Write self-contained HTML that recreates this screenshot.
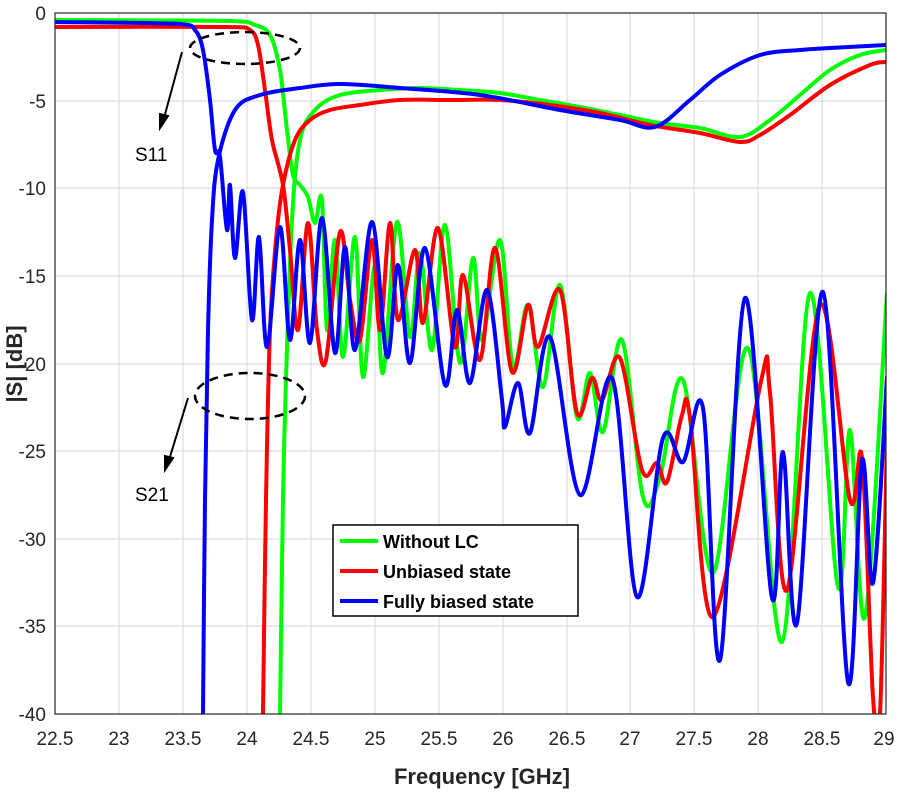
<!DOCTYPE html>
<html><head><meta charset="utf-8"><style>
html,body{margin:0;padding:0;background:#fff;}
svg{display:block;font-family:"Liberation Sans",Arial,sans-serif;}
</style></head><body>
<svg id="c" width="900" height="800" viewBox="0 0 900 800" xmlns="http://www.w3.org/2000/svg">
<defs><clipPath id="pa"><rect x="55" y="13" width="831" height="701"/></clipPath></defs>
<rect x="0" y="0" width="900" height="800" fill="#fff"/>
<g stroke="#dcdcdc" stroke-width="1.2">
<line x1="119" y1="13" x2="119" y2="714"/><line x1="183" y1="13" x2="183" y2="714"/><line x1="247" y1="13" x2="247" y2="714"/><line x1="311" y1="13" x2="311" y2="714"/><line x1="375" y1="13" x2="375" y2="714"/><line x1="439" y1="13" x2="439" y2="714"/><line x1="503" y1="13" x2="503" y2="714"/><line x1="567" y1="13" x2="567" y2="714"/><line x1="630" y1="13" x2="630" y2="714"/><line x1="694" y1="13" x2="694" y2="714"/><line x1="758" y1="13" x2="758" y2="714"/><line x1="822" y1="13" x2="822" y2="714"/>
<line x1="55" y1="101" x2="886" y2="101"/><line x1="55" y1="188" x2="886" y2="188"/><line x1="55" y1="276" x2="886" y2="276"/><line x1="55" y1="364" x2="886" y2="364"/><line x1="55" y1="451" x2="886" y2="451"/><line x1="55" y1="539" x2="886" y2="539"/><line x1="55" y1="626" x2="886" y2="626"/>
</g>
<g id="curves" clip-path="url(#pa)" fill="none" stroke-width="4" stroke-linejoin="round" stroke-linecap="round">
<polyline stroke="#00ff00" points="55,20 230,21 255,25 270,35 280,70 287,130 293,175 300,185 308,197 315,223 322,200 327,330 335,240 343,357 355,237 363,377 375,265 383,373 397,222 410,337 420,253 432,350 445,225 460,363 473,258 482,340 500,240 513,367 528,305 543,387 560,285 577,417 590,373 603,432 622,340 643,497 660,477 683,380 713,573 748,348 782,642 810,293 838,587 850,430 865,617 887,293"/>
<polyline stroke="#00ff00" points="280,714 283,500 286,380 292,220 300,140 315,110 340,95 380,90 420,88 460,90 500,93 540,100 580,107 620,115 660,123 700,128 740,137 770,120 800,95 830,70 860,55 886,50"/>
<polyline stroke="#ff0000" points="55,27 230,27 250,30 258,45 265,90 272,140 283,185 290,250 298,330 308,223 317,330 326,360 340,232 350,300 360,340 372,240 380,330 390,223 398,320 415,250 423,323 438,228 455,347 463,275 480,360 495,248 512,372 528,305 538,347 560,290 577,413 592,378 602,400 620,358 642,470 657,463 667,482 682,415 690,417 713,617 762,377 770,393 787,590 820,305 850,500 862,458 873,697 880,714 887,440"/>
<polyline stroke="#ff0000" points="263,714 266,500 270,330 276,240 283,185 295,140 310,120 330,110 360,105 400,100 450,100 500,100 550,105 600,113 650,125 700,133 740,142 760,135 790,115 830,85 870,65 886,62"/>
<polyline stroke="#0000ff" points="55,22 180,24 195,30 203,50 210,100 215,150 220,157 227,230 230,185 235,258 243,192 252,320 259,237 267,347 280,227 290,340 300,240 310,343 322,218 335,353 345,247 355,350 372,222 387,357 398,265 410,363 425,248 445,385 457,310 470,383 487,290 502,400 505,427 518,383 530,433 550,337 580,495 612,378 637,597 663,438 683,462 703,408 720,660 745,298 772,598 783,452 797,623 823,292 848,682 862,460 873,583 887,377"/>
<polyline stroke="#0000ff" points="203,714 205,500 208,330 212,220 218,160 235,110 260,95 300,88 340,84 400,88 480,95 560,110 620,120 655,127 690,100 720,75 760,55 800,50 830,48 886,45"/>
</g>
<g fill="none" stroke="#000" stroke-width="2.5" stroke-dasharray="9,6">
<ellipse cx="245" cy="48" rx="55" ry="16"/>
<ellipse cx="250" cy="396" rx="55" ry="23"/>
</g>
<g stroke="#000" stroke-width="2" fill="#000">
<line x1="182" y1="52" x2="164" y2="118"/><polygon points="160,128 160,114 168,116"/>
<line x1="188" y1="398" x2="169" y2="460"/><polygon points="165,470 165,456 173,458"/>
</g>
<text x="135" y="161" font-size="19">S11</text>
<text x="135" y="501" font-size="19">S21</text>
<rect x="333" y="525" width="245" height="91" fill="#fff" stroke="#000" stroke-width="1.5"/>
<g stroke-width="4"><line x1="340" y1="541" x2="378" y2="541" stroke="#00ff00"/><line x1="340" y1="571" x2="378" y2="571" stroke="#ff0000"/><line x1="340" y1="601" x2="378" y2="601" stroke="#0000ff"/></g>
<g font-size="18" font-weight="bold"><text x="383" y="548">Without LC</text><text x="383" y="578">Unbiased state</text><text x="383" y="608">Fully biased state</text></g>
<rect x="55" y="13" width="831" height="701" fill="none" stroke="#262626" stroke-width="1.2"/>
<g font-size="19" fill="#262626" text-anchor="end">
<text x="46" y="20">0</text><text x="46" y="108">-5</text><text x="46" y="195">-10</text><text x="46" y="283">-15</text><text x="46" y="371">-20</text><text x="46" y="458">-25</text><text x="46" y="546">-30</text><text x="46" y="633">-35</text><text x="46" y="721">-40</text>
</g>
<g font-size="19" fill="#262626" text-anchor="middle">
<text x="55" y="745">22.5</text><text x="119" y="745">23</text><text x="183" y="745">23.5</text><text x="247" y="745">24</text><text x="311" y="745">24.5</text><text x="375" y="745">25</text><text x="439" y="745">25.5</text><text x="503" y="745">26</text><text x="567" y="745">26.5</text><text x="630" y="745">27</text><text x="694" y="745">27.5</text><text x="758" y="745">28</text><text x="822" y="745">28.5</text><text x="884" y="745">29</text>
</g>
<text x="482" y="784" font-size="22" font-weight="bold" text-anchor="middle" fill="#262626">Frequency [GHz]</text>
<text transform="translate(22,364) rotate(-90)" font-size="22" font-weight="bold" text-anchor="middle" fill="#262626">|S| [dB]</text>
</svg>
<script>
(function(){
var NS="http://www.w3.org/2000/svg";
var pls=document.querySelectorAll("#curves polyline");
for(var k=0;k<pls.length;k++){
 var pl=pls[k];
 var pts=pl.getAttribute("points").trim().split(/\s+/).map(function(s){var a=s.split(",");return [+a[0],+a[1]];});
 var d="M"+pts[0][0]+","+pts[0][1];
 for(var i=0;i<pts.length-1;i++){
  var p0=pts[i>0?i-1:0],p1=pts[i],p2=pts[i+1],p3=pts[i+2<pts.length?i+2:i+1];
  var t=0.5/3;
  var c1x=p1[0]+(p2[0]-p0[0])*t,c1y=p1[1]+(p2[1]-p0[1])*t;
  var c2x=p2[0]-(p3[0]-p1[0])*t,c2y=p2[1]-(p3[1]-p1[1])*t;
  c1x=Math.max(Math.min(c1x,p2[0]),p1[0]);c2x=Math.max(Math.min(c2x,p2[0]),p1[0]);
  d+=" C"+c1x.toFixed(1)+","+c1y.toFixed(1)+" "+c2x.toFixed(1)+","+c2y.toFixed(1)+" "+p2[0]+","+p2[1];
 }
 var path=document.createElementNS(NS,"path");
 path.setAttribute("d",d);path.setAttribute("stroke",pl.getAttribute("stroke"));
 pl.parentNode.replaceChild(path,pl);
}
})();
</script>
</body></html>
